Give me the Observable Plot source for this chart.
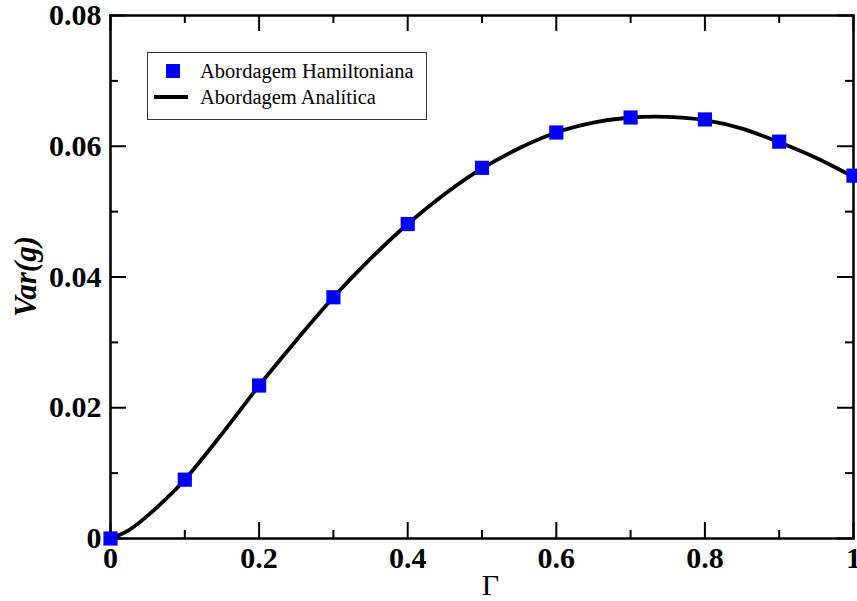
<!DOCTYPE html>
<html>
<head>
<meta charset="utf-8">
<script src="https://cdn.jsdelivr.net/npm/d3@7"></script>
<script src="https://cdn.jsdelivr.net/npm/@observablehq/plot@0.6"></script>
<style>
  body { margin: 0; background: #fff; }
  #wrap { position: relative; width: 857px; height: 601px; }
  #chart svg text { font-family: "Liberation Serif", "DejaVu Serif", serif !important; }
  #legend {
    position: absolute; left: 147px; top: 52px; width: 280px; height: 68px;
    border: 1.5px solid #333; background: #fff; box-sizing: border-box;
    font-family: "Liberation Serif", "DejaVu Serif", serif; font-size: 20.5px; color: #000;
  }
  #legend .row { position: absolute; left: 0; height: 24px; display: flex; align-items: center; }
  #legend .sw { width: 52px; display: flex; justify-content: center; align-items: center; }
  #legend .sq { width: 14px; height: 14px; background: #0000ff; margin-left: -2px; }
  #legend .ln { width: 34px; height: 4px; background: #000; margin-left: -6px; }
</style>
</head>
<body>
<div id="wrap">
  <div id="chart"></div>
  <div id="legend">
    <div class="row" style="top:6px"><div class="sw"><div class="sq"></div></div><span>Abordagem Hamiltoniana</span></div>
    <div class="row" style="top:32px"><div class="sw"><div class="ln"></div></div><span>Abordagem Analítica</span></div>
  </div>
</div>
<script>
// Hamiltonian approach (blue squares)
const gammaPts = [0, 0.1, 0.2, 0.3, 0.4, 0.5, 0.6, 0.7, 0.8, 0.9, 1.0];
const varPts   = [0, 0.0090, 0.0234, 0.0369, 0.0481, 0.0567, 0.0621, 0.0644, 0.0641, 0.0607, 0.0555];

// Analytical approach (black curve)
const gammaCurve = [0, 0.025, 0.05, 0.075, 0.1, 0.15, 0.2, 0.25, 0.3, 0.35, 0.4, 0.45, 0.5, 0.55, 0.6, 0.65, 0.7, 0.75, 0.8, 0.85, 0.9, 0.95, 1.0];
const varCurve   = [0, 0.0013, 0.0035, 0.0061, 0.0090, 0.0160, 0.0234, 0.0303, 0.0369, 0.0428, 0.0481, 0.0527, 0.0566, 0.0597, 0.0621, 0.0636, 0.0644, 0.0645, 0.0640, 0.0627, 0.0606, 0.0582, 0.0553];

const xMajor = [0, 0.2, 0.4, 0.6, 0.8, 1];
const xMinor = [0.1, 0.3, 0.5, 0.7, 0.9];
const yMajor = [0, 0.02, 0.04, 0.06, 0.08];
const yMinor = [0.01, 0.03, 0.05, 0.07];
const xTickLabels = ["0", "0.2", "0.4", "0.6", "0.8", "1"];
const yTickLabels = ["0", "0.02", "0.04", "0.06", "0.08"];

const pts = gammaPts.map((g, i) => ({g, v: varPts[i]}));
const curve = gammaCurve.map((g, i) => ({g, v: varCurve[i]}));

const W = 857, H = 601;
const mL = 110, mR = 4, mT = 15, mB = 63;
const pw = W - mL - mR, ph = H - mT - mB;
const MAJ = 16, MIN = 8;
const SERIF = "Liberation Serif, DejaVu Serif, serif";

const chart = Plot.plot({
  width: W, height: H,
  marginLeft: mL, marginRight: mR, marginTop: mT, marginBottom: mB,
  style: {fontFamily: SERIF, background: "#fff", overflow: "visible"},
  x: {domain: [0, 1]},
  y: {domain: [0, 0.08]},
  marks: [
    Plot.tickX(xMajor, {x: d => d, insetTop: ph - MAJ, stroke: "#000", strokeWidth: 2}),
    Plot.tickX(xMinor, {x: d => d, insetTop: ph - MIN, stroke: "#000", strokeWidth: 2}),
    Plot.tickX(xMajor, {x: d => d, insetBottom: ph - MAJ, stroke: "#000", strokeWidth: 2}),
    Plot.tickX(xMinor, {x: d => d, insetBottom: ph - MIN, stroke: "#000", strokeWidth: 2}),
    Plot.tickY(yMajor, {y: d => d, insetRight: pw - MAJ, stroke: "#000", strokeWidth: 2}),
    Plot.tickY(yMinor, {y: d => d, insetRight: pw - MIN, stroke: "#000", strokeWidth: 2}),
    Plot.tickY(yMajor, {y: d => d, insetLeft: pw - MAJ, stroke: "#000", strokeWidth: 2}),
    Plot.tickY(yMinor, {y: d => d, insetLeft: pw - MIN, stroke: "#000", strokeWidth: 2}),
    Plot.frame({stroke: "#000", strokeWidth: 2.5}),
    Plot.axisX({ticks: xMajor, tickFormat: (d, i) => xTickLabels[i], tickSize: 0, tickPadding: 8,
      fontSize: 30, fontWeight: "bold", fontFamily: SERIF, label: null}),
    Plot.axisY({ticks: yMajor, tickFormat: (d, i) => yTickLabels[i], tickSize: 0, tickPadding: 9,
      fontSize: 30, fontWeight: "bold", fontFamily: SERIF, label: null}),
    Plot.line(curve, {x: "g", y: "v", curve: "catmull-rom", stroke: "#000", strokeWidth: 3.8}),
    Plot.dot(pts, {x: "g", y: "v", symbol: "square", r: 8, fill: "#0000ff", stroke: "none"})
  ]
});
document.getElementById("chart").append(chart);

const svg = d3.select(chart);
svg.append("text")
  .attr("x", mL + pw / 2 + 9).attr("y", H - 6)
  .attr("text-anchor", "middle")
  .style("font-size", "30px")
  .attr("fill", "#000")
  .text("Γ");
svg.append("text")
  .attr("transform", `translate(36, ${mT + ph / 2}) rotate(-90)`)
  .attr("text-anchor", "middle")
  .style("font-size", "31px")
  .style("font-weight", "bold").style("font-style", "italic")
  .attr("fill", "#000")
  .text("Var(g)");
</script>
</body>
</html>
